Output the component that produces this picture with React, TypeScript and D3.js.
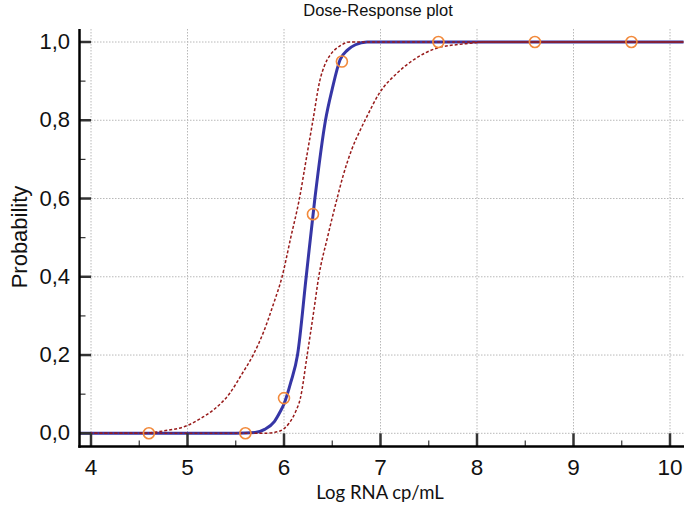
import React from "react";
import * as d3 from "d3";

const W = 684;
const H = 513;

// observed data (log RNA cp/mL, proportion positive)
const obsX = [4.6, 5.6, 6.0, 6.3, 6.6, 7.6, 8.6, 9.6];
const obsY = [0, 0, 0.09, 0.56, 0.95, 1, 1, 1];

// fitted curve
const fitX = [3.88, 5.5, 5.7, 5.8, 5.9, 5.96, 6.0, 6.07, 6.14, 6.23, 6.32, 6.43, 6.5, 6.58, 6.66, 6.74, 6.86, 10.14];
const fitY = [0, 0, 0.002, 0.01, 0.03, 0.055, 0.075, 0.13, 0.2, 0.4, 0.6, 0.8, 0.88, 0.954, 0.98, 0.993, 1, 1];

// confidence bounds
const lowX = [3.88, 5.8, 5.95, 6.05, 6.12, 6.17, 6.24, 6.31, 6.36, 6.45, 6.55, 6.61, 6.7, 6.8, 6.86, 6.99, 7.17, 7.34, 7.58, 7.86, 8.1, 10.14];
const lowY = [0, 0, 0.005, 0.025, 0.055, 0.09, 0.2, 0.315, 0.4, 0.5, 0.6, 0.656, 0.724, 0.78, 0.81, 0.87, 0.92, 0.954, 0.984, 0.995, 1, 1];
const upX = [3.88, 4.5, 4.75, 5.0, 5.15, 5.27, 5.44, 5.56, 5.68, 5.79, 5.89, 5.98, 6.07, 6.16, 6.23, 6.3, 6.37, 6.42, 6.48, 6.58, 6.68, 10.14];
const upY = [0, 0, 0.006, 0.02, 0.04, 0.06, 0.103, 0.15, 0.2, 0.26, 0.33, 0.4, 0.5, 0.6, 0.7, 0.8, 0.9, 0.94, 0.967, 0.99, 1, 1];

const xTicks = [4, 5, 6, 7, 8, 9, 10];
const xMinor = [4.5, 5.5, 6.5, 7.5, 8.5, 9.5];
const yTicks = [0, 0.2, 0.4, 0.6, 0.8, 1.0];
const yMinor = [0.1, 0.3, 0.5, 0.7, 0.9];

const x = d3.scaleLinear().domain([4, 10]).range([91, 670]);
const y = d3.scaleLinear().domain([0, 1]).range([433.3, 42]);

const SPINE_X = 79.5;
const SPINE_Y = 446.5;
const TOP = 29;
const RIGHT = 684;

const line = d3
  .line<[number, number]>()
  .x((d) => x(d[0]))
  .y((d) => y(d[1]))
  .curve(d3.curveMonotoneX);

const zip = (a: number[], b: number[]) => a.map((v, i) => [v, b[i]] as [number, number]);

const fmt = (v: number) => v.toFixed(1).replace(".", ",");

export default function App() {
  const font = "'Liberation Sans', Arial, sans-serif";
  return (
    <div style={{ position: "absolute", left: 0, top: 0 }}>
      <svg width={W} height={H} style={{ display: "block", background: "#fff" }}>
        <text x={378} y={16} textAnchor="middle" fontFamily={font} fontSize={16.5} fill="#111">
          Dose-Response plot
        </text>

        {/* grid */}
        <g stroke="#b8b8b8" strokeWidth={1} strokeDasharray="1.5,1.5">
          {xTicks.map((t) => (
            <line key={"gx" + t} x1={x(t)} x2={x(t)} y1={TOP} y2={y(0)} />
          ))}
          {yTicks.map((t) => (
            <line key={"gy" + t} x1={x(4)} x2={RIGHT} y1={y(t)} y2={y(t)} />
          ))}
        </g>

        {/* curves */}
        <path d={line(zip(fitX, fitY)) || ""} fill="none" stroke="#3636a6" strokeWidth={3} />
        <path d={line(zip(upX, upY)) || ""} fill="none" stroke="#981b1b" strokeWidth={1.5} strokeDasharray="3,2" />
        <path d={line(zip(lowX, lowY)) || ""} fill="none" stroke="#981b1b" strokeWidth={1.5} strokeDasharray="3,2" />

        {obsX.map((v, i) => (
          <circle key={"p" + i} cx={x(v)} cy={y(obsY[i])} r={5.5} fill="none" stroke="#f28a3c" strokeWidth={1.6} />
        ))}

        {/* axes */}
        <g stroke="#333">
          {yTicks.map((t) => (
            <line key={"ty" + t} x1={SPINE_X} x2={x(4)} y1={y(t)} y2={y(t)} strokeWidth={2.5} />
          ))}
          {yMinor.map((t) => (
            <line key={"my" + t} x1={SPINE_X} x2={SPINE_X + 6} y1={y(t)} y2={y(t)} strokeWidth={1.2} />
          ))}
          {xTicks.map((t) => (
            <line key={"tx" + t} x1={x(t)} x2={x(t)} y1={SPINE_Y} y2={y(0)} strokeWidth={2.5} />
          ))}
          {xMinor.map((t) => (
            <line key={"mx" + t} x1={x(t)} x2={x(t)} y1={SPINE_Y} y2={SPINE_Y - 6} strokeWidth={1.2} />
          ))}
        </g>
        <line x1={SPINE_X} x2={SPINE_X} y1={TOP} y2={SPINE_Y + 1.2} stroke="#000" strokeWidth={2.5} />
        <line x1={SPINE_X - 1.2} x2={RIGHT} y1={SPINE_Y} y2={SPINE_Y} stroke="#000" strokeWidth={2.5} />

        {yTicks.map((t) => (
          <text key={"ly" + t} x={70} y={y(t) + 7} textAnchor="end" fontFamily={font} fontSize={22} fill="#111">
            {fmt(t)}
          </text>
        ))}
        {xTicks.map((t) => (
          <text key={"lx" + t} x={x(t)} y={475} textAnchor="middle" fontFamily={font} fontSize={22.5} fill="#111">
            {t}
          </text>
        ))}

        <text
          transform={`translate(27,237) rotate(-90)`}
          textAnchor="middle"
          fontFamily={font}
          fontSize={22}
          fill="#111"
        >
          Probability
        </text>
        <text x={380} y={499} textAnchor="middle" fontFamily="Lato, 'Open Sans', sans-serif" fontSize={18.5} fill="#111">
          Log RNA cp/mL
        </text>
      </svg>
    </div>
  );
}
